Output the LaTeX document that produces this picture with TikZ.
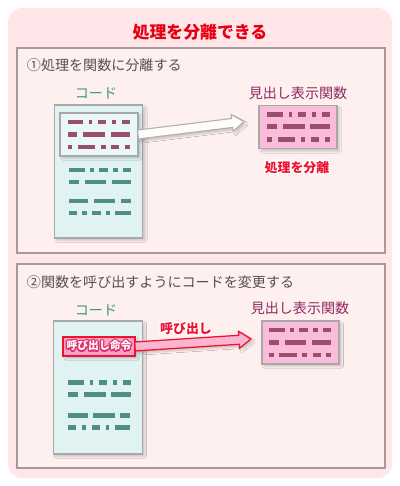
\documentclass[tikz,border=0pt]{standalone}
\usepackage{fontspec}
\usepackage{xcolor}
\usepackage{contour}
\newfontfamily\jpfont{Noto Sans CJK JP}
\definecolor{outerbg}{HTML}{FFE6E8}
\definecolor{panelbg}{HTML}{FFF0F0}
\definecolor{panelline}{HTML}{A89A9A}
\definecolor{titlered}{HTML}{E60012}
\definecolor{headgray}{HTML}{555050}
\definecolor{codeteal}{HTML}{3E968C}
\definecolor{dashteal}{HTML}{4E8E84}
\definecolor{docfill}{HTML}{E0F3F2}
\definecolor{docline}{HTML}{A8A8A8}
\definecolor{dashmag}{HTML}{9C4D6E}
\definecolor{funcfill}{HTML}{F9BCDA}
\definecolor{funclabel}{HTML}{8E2A5E}
\definecolor{calred}{HTML}{F01030}
\definecolor{calfill}{HTML}{F9A2C4}
\definecolor{calpink}{HTML}{E0306A}
\usepackage{tikz}
\usetikzlibrary{calc,shadows.blur}

\contourlength{0.9pt}

% dash patterns of one code line
\def\rowA{0/15.5,21.3/24.6,30.3/38.6,44.3/48.6,54.3/62.3}
\def\rowB{0/9.6,15.6/37.3,43/62.3}
\def\rowC{0/4.6,10.3/27.6,33.3/38,43.6/51.6,57.3/62.3}
\def\rowD{0/19.3,24.7/46.3,52/61.7}
\def\rowE{0/7.7,13.3/17.7,23.3/31.7,37.3/40.7,46.3/61.7}

\newcommand{\dashrow}[4]{%
  \foreach \a/\b in #4 \fill[#3] ({#1+\a},{#2-2.4}) rectangle ({#1+\b},{#2+2.4});}
\newcommand{\codeblock}[3]{%
  \dashrow{#1}{#2}{#3}{\rowA}
  \dashrow{#1}{#2+12.5}{#3}{\rowB}
  \dashrow{#1}{#2+25}{#3}{\rowC}}
\newcommand{\fatarrow}[3]{%
  \coordinate (hb) at ($(#3)!8.5pt!(#2)$);
  \draw[#1] ($(#2)!3.2pt!90:(#3)$) -- ($(hb)!3.2pt!90:(#3)$) -- ($(hb)!6pt!90:(#3)$) -- (#3)
    -- ($(hb)!6pt!-90:(#3)$) -- ($(hb)!3.2pt!-90:(#3)$) -- ($(#2)!3.2pt!-90:(#3)$) -- cycle;}

\begin{document}
\begin{tikzpicture}[x=0.025cm, y=-0.025cm,
    lightshadow/.style={blur shadow={shadow xshift=1.8pt, shadow yshift=-1.8pt,
        shadow blur radius=1.2pt, shadow opacity=18}},
    panel/.style={fill=panelbg, draw=panelline, line width=1.1pt},
    docbox/.style={fill=docfill, draw=docline, line width=0.9pt, inner sep=0pt, outer sep=0pt,
        minimum width=63pt, minimum height=94.6pt, lightshadow},
    funcbox/.style={fill=funcfill, draw=docline, line width=0.9pt, inner sep=0pt, outer sep=0pt,
        minimum width=55.3pt, minimum height=31pt, lightshadow},
    heading/.style={font={\fontsize{10}{12}\jpfont}, text=headgray, anchor=west},
    codelabel/.style={font={\fontsize{10}{12}\jpfont}, text=codeteal},
    funclabel/.style={font={\fontsize{10}{12}\jpfont}, text=funclabel},
    redtag/.style={font={\fontsize{9.2}{11}\jpfont\bfseries}},
  ]

  \useasboundingbox (0,0) rectangle (400,486);
  \fill[outerbg, rounded corners=10pt] (8,8) rectangle (392,478);

  \node[font={\fontsize{12}{14}\jpfont\bfseries}, text=titlered] (title) at (200,32) {処理を分離できる};

  % first panel
  \draw[panel] (17,48) rectangle (385,253);
  \node[heading] (head1) at (22,65) {①処理を関数に分離する};

  \node[codelabel] (code1) at (96,93) {コード};
  \node[docbox] (doc1) at (98.5,171.5) {};
  \node[docbox, minimum width=55.5pt, minimum height=30.6pt, fill=docfill!70!white,
        line width=1.1pt] (inner1) at (99,134.5) {};
  \codeblock{67.7}{122}{dashmag}
  \dashrow{69}{170}{dashteal}{\rowA}
  \dashrow{69}{182}{dashteal}{\rowB}
  \dashrow{69}{201}{dashteal}{\rowD}
  \dashrow{69}{213}{dashteal}{\rowE}

  \node[funclabel] (flabel1) at (298,93) {見出し表示関数};
  \node[funcbox] (func1) at (298,127) {};
  \codeblock{267.3}{114.3}{dashmag}
  \node[redtag] (sep) at (297,168) {\contour{white}{\textcolor{calred}{処理を分離}}};

  \coordinate (tip1) at (244,121.5);
  \fatarrow{draw=docline!90!white, fill=white!80!panelbg, line width=0.8pt, lightshadow}{inner1.east}{tip1}

  % second panel
  \draw[panel] (17,264) rectangle (385,468);
  \node[heading] (head2) at (22,282) {②関数を呼び出すようにコードを変更する};

  \node[codelabel] (code2) at (96,310) {コード};
  \node[docbox] (doc2) at (98,387.5) {};
  \dashrow{68.3}{382.3}{dashteal}{\rowA}
  \dashrow{68.3}{394.6}{dashteal}{\rowB}
  \dashrow{68.3}{415.7}{dashteal}{\rowD}
  \dashrow{68.3}{427.3}{dashteal}{\rowE}

  \node[funclabel] (flabel2) at (300,308) {見出し表示関数};
  \node[funcbox, minimum width=54.8pt, minimum height=30.6pt] (func2) at (300.5,342.5) {};
  \codeblock{269}{330}{dashmag}

  \node[fill=calfill, draw=calred, line width=1.1pt, inner sep=0pt, outer sep=0pt,
        minimum width=51.2pt, minimum height=13.5pt, lightshadow,
        font={\fontsize{7.7}{9}\jpfont\bfseries}] (call) at (99,346.5)
        {\contour{calpink}{\textcolor{white}{呼び出し命令}}};
  \coordinate (tip2) at (251,339);
  \fatarrow{draw=calred, fill=calfill!80!white, line width=0.9pt, lightshadow}{call.east}{tip2}
  \node[redtag] (calltag) at (186,329) {\contour{white}{\textcolor{calred}{呼び出し}}};

\end{tikzpicture}
\end{document}
